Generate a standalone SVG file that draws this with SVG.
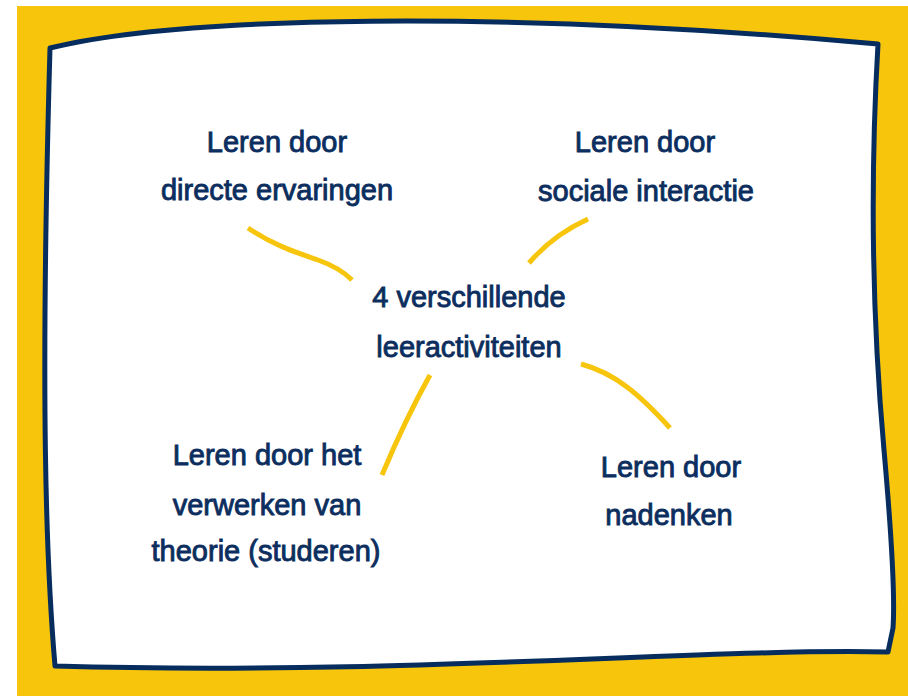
<svg xmlns="http://www.w3.org/2000/svg" width="908" height="696" viewBox="0 0 908 696">
<style>
.lbl{font-family:"Liberation Sans",Arial,sans-serif;font-size:29px;fill:#0c2e5e;stroke:#0c2e5e;stroke-width:0.9;text-anchor:middle}
.conn{fill:none;stroke:#f6c50c;stroke-width:5;stroke-linecap:butt}
</style>
<rect x="17" y="6" width="891" height="690" fill="#f6c50c"/>
<path id="frame" d="M50,48 C180,16 500,10 878,44 Q866,250 884,450 Q896,585 893,628 L888,652 C700,648 400,676 55,666 C46,560 40,400 50,48 Z" fill="#ffffff" stroke="#062d5e" stroke-width="5" stroke-linejoin="round"/>
<g id="connectors">
<path class="conn" d="M248,228 C275,246 295,252 318,260 C335,266 345,273 352,280"/>
<path class="conn" d="M529,263 Q553,235 588,219"/>
<path class="conn" d="M430,375 Q405,420 382,475"/>
<path class="conn" d="M581,364 C615,373 640,395 670,428"/>
</g>
<g id="center">
<text class="lbl" x="469" y="307">4 verschillende</text>
<text class="lbl" x="469" y="357">leeractiviteiten</text>
</g>
<g id="directe">
<text class="lbl" x="277" y="152">Leren door</text>
<text class="lbl" x="277" y="200">directe ervaringen</text>
</g>
<g id="sociale">
<text class="lbl" x="645" y="152">Leren door</text>
<text class="lbl" x="646" y="201">sociale interactie</text>
</g>
<g id="theorie">
<text class="lbl" x="267" y="465">Leren door het</text>
<text class="lbl" x="267" y="515">verwerken van</text>
<text class="lbl" x="266" y="561">theorie (studeren)</text>
</g>
<g id="nadenken">
<text class="lbl" x="671" y="477">Leren door</text>
<text class="lbl" x="669" y="525">nadenken</text>
</g>
</svg>
